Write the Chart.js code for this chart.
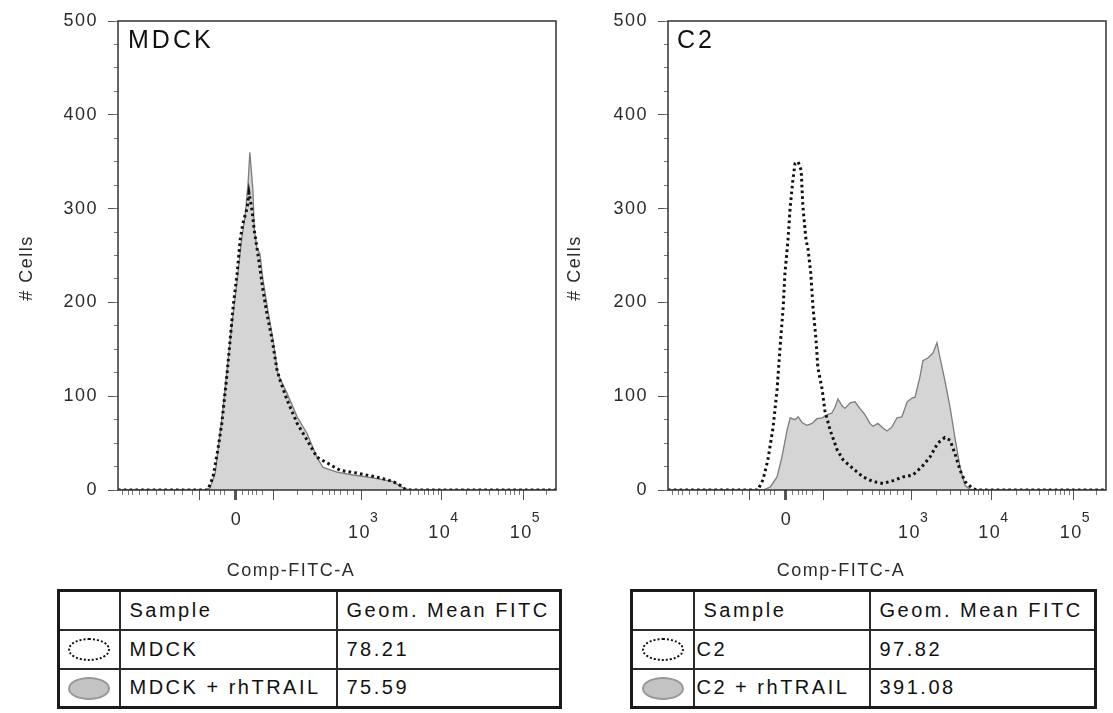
<!DOCTYPE html>
<html>
<head>
<meta charset="utf-8">
<title>FITC histograms</title>
<script src="https://cdn.jsdelivr.net/npm/chart.js@4.4.1/dist/chart.umd.min.js"></script>
<style>
  html, body { margin: 0; padding: 0; background: #fff; }
  body { width: 1113px; height: 713px; position: relative; overflow: hidden;
         font-family: "Liberation Sans", Arial, sans-serif; }
  canvas.panel { position: absolute; top: 0; }
  table.stats { position: absolute; top: 589px; border-collapse: collapse; table-layout: fixed;
                border: 3px solid #1a1a1a; font-size: 20px; letter-spacing: 2.5px; color: #111; }
  table.stats tr { height: 39px; }
  table.stats td { border: 2px solid #2a2a2a; padding: 0 0 0 9px; white-space: nowrap;
                   vertical-align: middle; overflow: hidden; }
  table.stats td.sym { padding: 0; text-align: center; }
  table.stats td.tight { padding-left: 2px; }
  .glyph { display: inline-block; width: 42px; height: 23px; border-radius: 50%;
           box-sizing: border-box; vertical-align: middle; }
  .glyph.dotted { border: 2.5px dotted #111; background: #fff; }
  .glyph.filled { border: 2px solid #999; background: #c3c3c3; }
</style>
</head>
<body>
<canvas id="chartMdck" class="panel" width="560" height="585" style="left:0px"></canvas>
<canvas id="chartC2" class="panel" width="560" height="585" style="left:550px"></canvas>

<table class="stats" style="left:57px; width:502px">
  <colgroup><col style="width:61px"><col style="width:217px"><col style="width:224px"></colgroup>
  <tr><td class="sym"></td><td>Sample</td><td>Geom. Mean FITC</td></tr>
  <tr><td class="sym"><span class="glyph dotted"></span></td><td>MDCK</td><td>78.21</td></tr>
  <tr><td class="sym"><span class="glyph filled"></span></td><td>MDCK + rhTRAIL</td><td>75.59</td></tr>
</table>

<table class="stats" style="left:630px; width:464px">
  <colgroup><col style="width:62px"><col style="width:176px"><col style="width:226px"></colgroup>
  <tr><td class="sym"></td><td>Sample</td><td>Geom. Mean FITC</td></tr>
  <tr><td class="sym"><span class="glyph dotted"></span></td><td class="tight">C2</td><td>97.82</td></tr>
  <tr><td class="sym"><span class="glyph filled"></span></td><td class="tight">C2 + rhTRAIL</td><td>391.08</td></tr>
</table>

<script>
// Histogram counts on the display channel scale (0–1000, biexponential FITC axis)
const mdckX = [0, 205, 217, 228, 237, 249, 256, 263, 272, 279, 285, 295, 299, 306, 311, 317, 324, 331, 340, 352,
               363, 370, 386, 409, 432, 454, 477, 507, 546, 598, 628, 644, 655, 667, 1000];
const mdckY = [0, 0, 14, 43, 71, 124, 160, 196, 231, 267, 284, 301, 317, 298, 277, 259, 237, 213, 188, 160,
               128, 117, 96, 71, 53, 35, 29, 21, 18, 13, 9, 5, 1, 0, 0];

const mdckTrailX = [0, 199, 210, 222, 240, 256, 272, 283, 290, 297, 301, 308, 311, 317, 324, 331, 343, 354, 365, 386,
                    409, 432, 454, 468, 500, 537, 582, 628, 648, 660, 671, 1000];
const mdckTrailY = [0, 0, 2, 18, 88, 160, 224, 270, 291, 327, 360, 320, 279, 258, 252, 224, 189, 160, 124, 103,
                    78, 60, 35, 24, 19, 16, 13, 9, 3, 1, 0, 0];

const c2X = [0, 205, 217, 228, 240, 249, 256, 263, 267, 274, 279, 285, 290, 297, 304, 308, 315, 320, 326, 331,
             338, 342, 352, 358, 370, 386, 400, 422, 445, 468, 491, 514, 537, 559, 580, 598, 616, 632, 644, 655,
             667, 678, 694, 705, 1000];
const c2Y = [0, 0, 11, 32, 67, 107, 153, 195, 231, 267, 302, 330, 348, 350, 341, 302, 267, 256, 231, 195,
             160, 131, 107, 85, 64, 43, 32, 23, 14, 9, 7, 10, 14, 16, 25, 35, 50, 56, 53, 39,
             21, 9, 2, 0, 0];

const c2TrailX = [0, 217, 233, 249, 260, 272, 279, 290, 297, 306, 317, 329, 340, 352, 363, 374, 381, 388, 397, 404,
                  416, 427, 438, 450, 461, 468, 479, 491, 500, 511, 523, 534, 546, 557, 564, 575, 582, 594, 605, 614,
                  621, 632, 644, 655, 667, 678, 689, 701, 1000];
const c2TrailY = [0, 0, 3, 14, 35, 64, 77, 75, 78, 72, 69, 71, 76, 77, 80, 82, 88, 97, 90, 87,
                  93, 94, 87, 80, 71, 68, 71, 66, 63, 67, 77, 78, 94, 98, 99, 120, 138, 141, 146, 157,
                  141, 117, 88, 56, 24, 5, 1, 0, 0];

// Axis tick positions (channel units) and labels
const xMajorTicks = [187, 268, 354, 556, 739, 925];
const xMinorTicks = [11, 23, 34, 50, 68, 89, 107, 130, 148, 169, 210, 221, 233, 244, 285, 297, 308, 317, 331,
                     409, 445, 466, 484, 495, 507, 523, 537, 612, 644, 667, 685, 699, 710, 721, 731,
                     795, 826, 849, 868, 884, 895, 906, 916, 979];
const xLabelTicks = [268, 556, 739, 925];
const xLabelBase = ['0', '10', '10', '10'];
const xLabelExp = ['', '3', '4', '5'];
const yMajorStep = 100;
const yMinorStep = 25;

const FONT = '"Liberation Sans", Arial, sans-serif';

function points(xs, ys) {
  return xs.map((x, i) => ({ x: x, y: ys[i] }));
}

// Draws the plot frame, panel name, axis titles and the exponent-style x labels
const panelDecor = {
  id: 'panelDecor',
  beforeUpdate(chart) { chart.ctx.letterSpacing = '1.5px'; },
  beforeDraw(chart) { chart.ctx.letterSpacing = '1.5px'; },
  afterDatasetsDraw(chart) {
    const { ctx, chartArea: a } = chart;
    ctx.save();
    ctx.strokeStyle = '#333';
    ctx.lineWidth = 1.5;
    ctx.strokeRect(a.left, a.top, a.right - a.left, a.bottom - a.top);
    ctx.restore();
  },
  afterDraw(chart, args, opts) {
    const { ctx, chartArea: a } = chart;
    const xs = chart.scales.x;
    ctx.save();

    // panel name
    ctx.letterSpacing = '3px';
    ctx.font = '25px ' + FONT;
    ctx.fillStyle = '#111';
    ctx.textAlign = 'left';
    ctx.textBaseline = 'alphabetic';
    ctx.fillText(opts.label, a.left + opts.labelDx, a.top + 27);

    // x tick labels
    ctx.letterSpacing = '1.5px';
    ctx.fillStyle = '#2b2b2b';
    ctx.textBaseline = 'middle';
    xLabelTicks.forEach((v, i) => {
      const px = xs.getPixelForValue(v);
      ctx.font = '18px ' + FONT;
      ctx.textAlign = 'center';
      if (!xLabelExp[i]) {
        ctx.fillText(xLabelBase[i], px + 1, a.bottom + 30);
      } else {
        const cx = px - 2;
        ctx.fillText(xLabelBase[i], cx, a.bottom + 43);
        const w = ctx.measureText(xLabelBase[i]).width;
        ctx.font = '14px ' + FONT;
        ctx.textAlign = 'left';
        ctx.fillText(xLabelExp[i], cx + w / 2 - 1, a.bottom + 28);
      }
    });

    // axis titles
    ctx.font = '18px ' + FONT;
    ctx.textAlign = 'center';
    ctx.fillText('Comp-FITC-A', a.left + 173, a.bottom + 81);
    ctx.translate(opts.yTitleX, 268);
    ctx.rotate(-Math.PI / 2);
    ctx.fillText('# Cells', 0, 0);
    ctx.restore();
  }
};

function makeChart(id, opts) {
  const tickColor = '#555';
  return new Chart(document.getElementById(id), {
    type: 'line',
    data: {
      datasets: [
        {
          // untreated sample, drawn on top as a dotted outline
          label: opts.dottedName,
          data: points(opts.dottedX, opts.dottedY),
          order: 0,
          fill: false,
          borderColor: '#111',
          borderWidth: 3,
          borderDash: [2.6, 3.2],
          pointRadius: 0,
          tension: 0
        },
        {
          // rhTRAIL-treated sample, filled grey histogram
          label: opts.filledName,
          data: points(opts.filledX, opts.filledY),
          order: 1,
          fill: 'origin',
          backgroundColor: '#d5d5d5',
          borderColor: '#7d7d7d',
          borderWidth: 1.3,
          pointRadius: 0,
          tension: 0
        }
      ]
    },
    options: {
      responsive: false,
      animation: false,
      events: [],
      layout: { padding: { left: 0, top: 21, right: 4, bottom: 65 } },
      plugins: {
        legend: { display: false },
        tooltip: { enabled: false },
        panelDecor: { label: opts.label, labelDx: opts.labelDx, yTitleX: opts.yTitleX }
      },
      scales: {
        x: {
          type: 'linear', position: 'bottom', weight: 1, min: 0, max: 1000,
          afterFit: s => { s.height = 30; },
          afterBuildTicks: s => { s.ticks = xMajorTicks.map(v => ({ value: v })); },
          ticks: { display: false },
          grid: {
            drawOnChartArea: false, tickLength: 10, tickColor: tickColor,
            tickWidth: c => (c.tick && c.tick.value === 268 ? 3 : 1)
          },
          border: { display: false }
        },
        xMinor: {
          type: 'linear', position: 'bottom', weight: 0, min: 0, max: 1000,
          afterFit: s => { s.height = 0; },
          afterBuildTicks: s => { s.ticks = xMinorTicks.map(v => ({ value: v })); },
          ticks: { display: false },
          grid: { drawOnChartArea: false, tickLength: 5, tickColor: '#777' },
          border: { display: false }
        },
        y: {
          type: 'linear', position: 'left', weight: 1, min: 0, max: 500,
          afterFit: s => { s.width = 118; },
          ticks: { stepSize: yMajorStep, padding: 10, color: '#2b2b2b', font: { family: FONT, size: 18 } },
          grid: { drawOnChartArea: false, tickLength: 10, tickColor: tickColor },
          border: { display: false }
        },
        yMinor: {
          type: 'linear', position: 'left', weight: 0, min: 0, max: 500,
          afterFit: s => { s.width = 0; },
          ticks: { display: false, stepSize: yMinorStep },
          grid: { drawOnChartArea: false, tickLength: 4, tickColor: '#777' },
          border: { display: false }
        }
      }
    },
    plugins: [panelDecor]
  });
}

makeChart('chartMdck', {
  label: 'MDCK', labelDx: 10, yTitleX: 27,
  filledName: 'MDCK + rhTRAIL', filledX: mdckTrailX, filledY: mdckTrailY,
  dottedName: 'MDCK', dottedX: mdckX, dottedY: mdckY
});

makeChart('chartC2', {
  label: 'C2', labelDx: 9, yTitleX: 25,
  filledName: 'C2 + rhTRAIL', filledX: c2TrailX, filledY: c2TrailY,
  dottedName: 'C2', dottedX: c2X, dottedY: c2Y
});
</script>
</body>
</html>
